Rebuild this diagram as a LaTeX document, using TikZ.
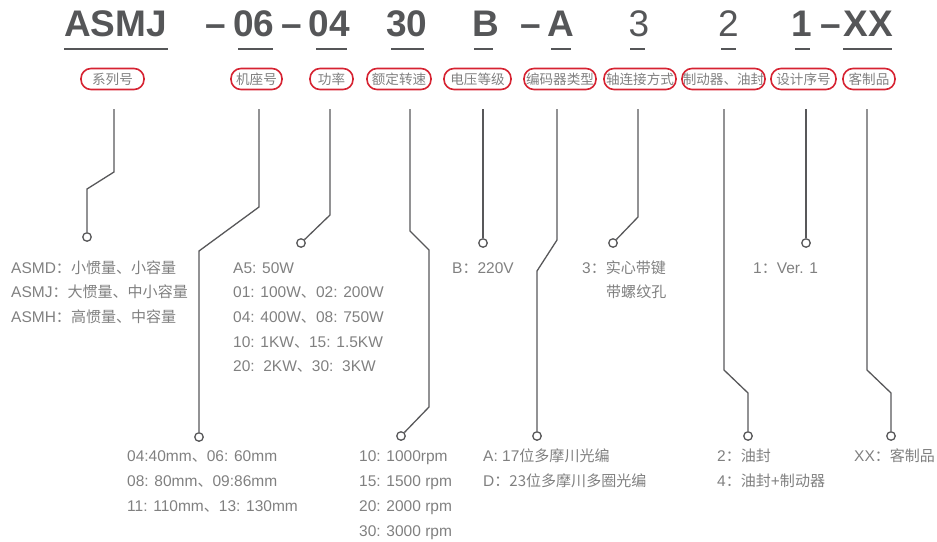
\documentclass[tikz,border=0pt]{standalone}
\usepackage{fontspec}
\setmainfont{Liberation Sans}
\newfontfamily\cjk[Scale=0.97]{Noto Sans CJK SC}
\definecolor{codegray}{RGB}{85,86,88}
\definecolor{linegray}{RGB}{88,88,90}
\definecolor{txtgray}{RGB}{128,128,128}
\definecolor{tagred}{RGB}{214,35,50}
\tikzset{
  code/.style={anchor=base, inner sep=0, text=codegray, font=\fontsize{37}{37}\selectfont\bfseries},
  codethin/.style={code, font=\fontsize{37}{37}\selectfont},
  uline/.style={draw=codegray, line width=2pt},
  tag/.style={draw=tagred, line width=1.6pt, rounded corners=10pt, minimum height=21pt, inner sep=0, text=txtgray, font=\fontsize{14}{14}\selectfont\cjk},
  lead/.style={draw=linegray, line width=1.3pt},
  dot/.style={circle, draw=linegray, line width=1.3pt, fill=white, minimum size=8.5pt, inner sep=0},
  item/.style={anchor=base west, inner sep=0, text=txtgray, font=\fontsize{15.5}{15.5}\selectfont}
}
\begin{document}
\begin{tikzpicture}[x=1pt,y=-1pt]
  %%%%% START %%%%%
  \useasboundingbox (0,0) rectangle (937,541);

  % model code
  \node[code] (cSeries) at (115.5,36) {ASMJ};
  \node[code] (cDashA) at (215.5,36) {--};
  \node[code] (cFrame) at (254,36) {06};
  \node[code] (cDashB) at (292,36) {--};
  \node[code] (cPower) at (329.5,36) {04};
  \node[code] (cSpeed) at (407,36) {30};
  \node[code] (cVolt) at (485.5,36) {B};
  \node[code] (cDashC) at (531,36) {--};
  \node[code] (cEnc) at (561,36) {A};
  \node[codethin] (cShaft) at (639,36) {3};
  \node[codethin] (cBrake) at (728.5,36) {2};
  \node[code] (cVer) at (801.5,36) {1};
  \node[code] (cDashD) at (830.5,36) {--};
  \node[code] (cCustom) at (868.5,36) {XX};

  \draw[uline] (64,49) -- (168,49);
  \draw[uline] (238,49) -- (273,49);
  \draw[uline] (316,49) -- (347,49);
  \draw[uline] (391,49) -- (424,49);
  \draw[uline] (474,49) -- (493,49);
  \draw[uline] (551,49) -- (571,49);
  \draw[uline] (630,49) -- (645,49);
  \draw[uline] (721,49) -- (736,49);
  \draw[uline] (795,49) -- (810,49);
  \draw[uline] (843,49) -- (892,49);

  % red tags
  \node[tag, minimum width=63pt] (tSeries) at (112.5,79) {系列号};
  \node[tag, minimum width=51pt] (tFrame) at (256.5,79) {机座号};
  \node[tag, minimum width=43pt] (tPower) at (331.5,79) {功率};
  \node[tag, minimum width=64pt] (tSpeed) at (399,79) {额定转速};
  \node[tag, minimum width=67pt] (tVolt) at (477.5,79) {电压等级};
  \node[tag, minimum width=72pt] (tEnc) at (560,79) {编码器类型};
  \node[tag, minimum width=72pt] (tShaft) at (640,79) {轴连接方式};
  \node[tag, minimum width=83pt] (tBrake) at (723.5,79) {制动器、油封};
  \node[tag, minimum width=65pt] (tVer) at (803.5,79) {设计序号};
  \node[tag, minimum width=52pt] (tCustom) at (869,79) {客制品};

  % leaders
  \coordinate (sSeries) at (114,109);
  \coordinate (sFrame) at (259,109);
  \coordinate (sPower) at (330,109);
  \coordinate (sSpeed) at (410,109);
  \coordinate (sVolt) at (483,109);
  \coordinate (sEnc) at (557,109);
  \coordinate (sShaft) at (638,109);
  \coordinate (sBrake) at (724,109);
  \coordinate (sVer) at (806,109);
  \coordinate (sCustom) at (867,109);

  \node[dot] (dSeries) at (87,237) {};
  \node[dot] (dFrame) at (199,437) {};
  \node[dot] (dPower) at (301,243) {};
  \node[dot] (dSpeed) at (401,436) {};
  \node[dot] (dVolt) at (483,243) {};
  \node[dot] (dEnc) at (537,436) {};
  \node[dot] (dShaft) at (613,243) {};
  \node[dot] (dBrake) at (748,436) {};
  \node[dot] (dVer) at (806,243) {};
  \node[dot] (dCustom) at (891,436) {};

  \draw[lead] (sSeries) -- (114,172) -- (87,189) -- (dSeries);
  \draw[lead] (sFrame) -- (259,207) -- (199,251) -- (dFrame);
  \draw[lead] (sPower) -- (330,215) -- (dPower);
  \draw[lead] (sSpeed) -- (410,231) -- (429,250) -- (429,407) -- (dSpeed);
  \draw[lead] (sVolt) -- (dVolt);
  \draw[lead] (sEnc) -- (557,240) -- (537,271) -- (dEnc);
  \draw[lead] (sShaft) -- (638,217) -- (dShaft);
  \draw[lead] (sBrake) -- (724,370) -- (748,393) -- (dBrake);
  \draw[lead] (sVer) -- (dVer);
  \draw[lead] (sCustom) -- (867,370) -- (891,393) -- (dCustom);

  % upper texts
  \node[item] (iSeriesA) at (11,273) {ASMD{\cjk ：小惯量、小容量}};
  \node[item] (iSeriesB) at (11,297.7) {ASMJ{\cjk ：大惯量、中小容量}};
  \node[item] (iSeriesC) at (11,322.4) {ASMH{\cjk ：高惯量、中容量}};

  \node[item] (iPowerA) at (233,273) {A5: 50W};
  \node[item] (iPowerB) at (233,297.7) {01: 100W{\cjk 、}02: 200W};
  \node[item] (iPowerC) at (233,322.4) {04: 400W{\cjk 、}08: 750W};
  \node[item] (iPowerD) at (233,347.1) {10: 1KW{\cjk 、}15: 1.5KW};
  \node[item] (iPowerE) at (233,371.8) {20:\ \ 2KW{\cjk 、}30:\ \ 3KW};

  \node[item] (iVolt) at (452,273) {B{\cjk ：}220V};
  \node[item] (iShaftA) at (582,273) {3{\cjk ：实心带键}};
  \node[item] (iShaftB) at (606,297.7) {\cjk 带螺纹孔};
  \node[item] (iVer) at (753,273) {1{\cjk ：}Ver. 1};

  % lower texts
  \node[item] (iFrameA) at (127,461) {04:40mm{\cjk 、}06: 60mm};
  \node[item] (iFrameB) at (127,486) {08: 80mm{\cjk 、}09:86mm};
  \node[item] (iFrameC) at (127,511) {11: 110mm{\cjk 、}13: 130mm};

  \node[item] (iSpeedA) at (359,461) {10: 1000rpm};
  \node[item] (iSpeedB) at (359,486) {15: 1500 rpm};
  \node[item] (iSpeedC) at (359,511) {20: 2000 rpm};
  \node[item] (iSpeedD) at (359,536) {30: 3000 rpm};

  \node[item] (iEncA) at (483,461) {A: 17{\cjk 位多摩川光编}};
  \node[item] (iEncB) at (483,486) {D{\cjk ：23位多摩川多圈光编}};

  \node[item] (iBrakeA) at (717,461) {2{\cjk ：油封}};
  \node[item] (iBrakeB) at (717,486) {4{\cjk ：油封}+{\cjk 制动器}};

  \node[item] (iCustom) at (854,461) {XX{\cjk ：客制品}};
  %%%%% END %%%%%
\end{tikzpicture}
\end{document}
